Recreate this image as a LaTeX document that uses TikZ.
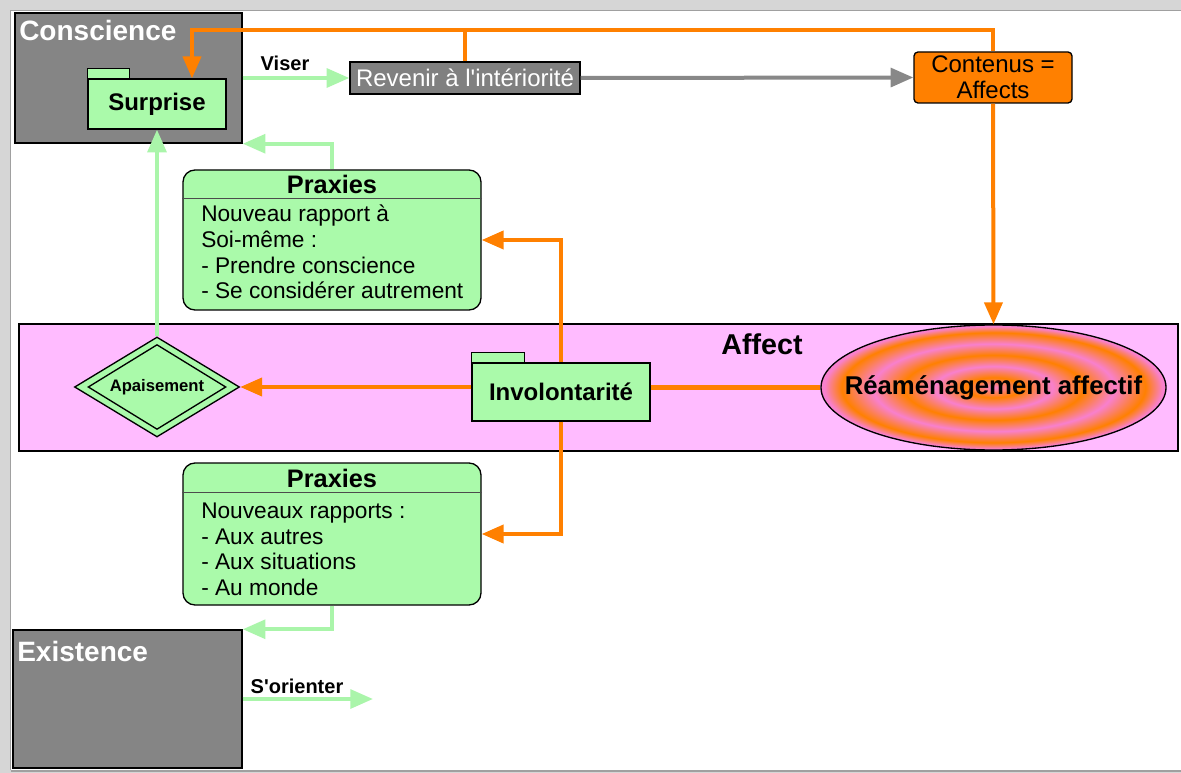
\documentclass[tikz,border=0pt]{standalone}
\usepackage{fontspec}
\setmainfont{Liberation Sans}
\newfontfamily\lsans{Liberation Sans}
\usetikzlibrary{arrows.meta,shapes.geometric,calc}
\definecolor{boxgray}{RGB}{133,133,133}
\definecolor{revgray}{RGB}{128,128,128}
\definecolor{arrgray}{RGB}{136,136,136}
\definecolor{lgreen}{RGB}{170,250,170}
\definecolor{cgreen}{RGB}{170,245,170}
\definecolor{orng}{RGB}{255,128,0}
\definecolor{bandpink}{RGB}{255,187,255}
\definecolor{ringpink}{RGB}{248,128,205}
\definecolor{framegray}{RGB}{214,214,214}
\definecolor{framedark}{RGB}{160,160,160}
\pgfdeclareradialshading{affshade4}{\pgfpoint{0bp}{0bp}}{color(0bp)=(ringpink); color(4bp)=(orng); color(8.5bp)=(ringpink); color(13bp)=(orng); color(17.5bp)=(ringpink); color(22bp)=(orng); color(24.5bp)=(ringpink); color(50bp)=(ringpink)}
\newcommand\fsz[2]{\fontsize{#1pt}{#2pt}\selectfont}
\begin{document}
\begin{tikzpicture}[x=0.75pt,y=-0.75pt,
  graybox/.style={draw=black, line width=1.1pt, fill=boxgray, inner sep=0pt},
  greenbox/.style={draw=black, line width=1pt, fill=lgreen, inner sep=0pt},
  praxbox/.style={greenbox, rounded corners=9pt},
  sepline/.style={draw=black!70, line width=0.8pt},
  gline/.style={draw=cgreen, line width=3pt},
  garrow/.style={gline, -{Triangle[length=17pt,width=14pt]}},
  oline/.style={draw=orng, line width=3pt},
  oarrow/.style={oline, -{Triangle[length=16.5pt,width=13.5pt]}},
  grarrow/.style={draw=arrgray, line width=3pt, -{Triangle[length=17pt,width=14pt]}},
  areatitle/.style={anchor=base west, inner sep=0pt, text=white, font=\bfseries\fsz{21}{25}},
  conlabel/.style={anchor=base, inner sep=0pt, font=\lsans\bfseries\fsz{15}{18}},
  hdr/.style={anchor=base, inner sep=0pt, font=\bfseries\fsz{19}{23}},
  bodyline/.style={anchor=base west, inner sep=0pt, font=\fsz{17}{20}},
]
\useasboundingbox (0,0) rectangle (1181,773);
% window frame
\fill[framegray] (0,0) rectangle (1181,773);
\fill[white] (11,11) rectangle (1181,770);
\draw[framedark, line width=0.8pt] (10.5,770) -- (10.5,10.5) -- (1181,10.5);
\draw[framedark, line width=1.5pt] (10.5,771) -- (1181,771);

% Affect band
\node[draw=black, line width=0.8pt, fill=bandpink, inner sep=0pt,
      minimum width=1159*0.75pt, minimum height=127*0.75pt] (affect) at (598.5,387.5) {};
\node[anchor=base, inner sep=0pt, font=\bfseries\fsz{21.5}{25}] (affectT) at (762,354) {Affect};

% Conscience area
\node[graybox, minimum width=227*0.75pt, minimum height=130*0.75pt] (conscience) at (128.5,78) {};
\node[areatitle] (conscienceT) at (19,41) {Conscience};
\node[greenbox, minimum width=138*0.75pt, minimum height=50*0.75pt, font=\bfseries\fsz{18}{21}] (surprise) at (157,104) {Surprise};
\draw[greenbox] (surprise.north west) rectangle ++(42,-10);

% Revenir
\node[draw=black, line width=1pt, fill=revgray, inner sep=0pt, text=white,
      minimum width=230*0.75pt, minimum height=32*0.75pt, font=\lsans\fsz{18}{21}] (revenir) at (465,78) {Revenir à l'intériorité};
% Contenus
\node[draw=black, line width=1pt, fill=orng, inner sep=0pt, rounded corners=3pt, align=center,
      minimum width=158*0.75pt, minimum height=51*0.75pt, font=\fsz{18}{19.5}] (contenus) at (993,77.5) {Contenus =\\Affects};

\node[conlabel] (viserL) at (285,71) {Viser};

% Praxies 1
\node[praxbox, minimum width=298*0.75pt, minimum height=140*0.75pt] (praxies1) at (332,240) {};
\draw[sepline] ($(praxies1.north west)+(0,29)$) -- ($(praxies1.north east)+(0,29)$);
\node[hdr] (p1h) at (332,194) {Praxies};
\node[bodyline] (p1a) at (201,222) {Nouveau rapport à};
\node[bodyline] (p1b) at (201,247.5) {Soi-même :};
\node[bodyline] (p1c) at (201,273.5) {- Prendre conscience};
\node[bodyline] (p1d) at (201,298.5) {- Se considérer autrement};

% Apaisement
\node[draw=black, line width=1pt, fill=lgreen, shape=diamond, aspect=1.65, inner sep=0pt,
      minimum width=165*0.75pt, minimum height=100*0.75pt, font=\bfseries\fsz{12.5}{15}] (apaisement) at (157,387) {Apaisement};
\draw[black, line width=1pt] ($(apaisement.north)+(0,8.5)$) -- ($(apaisement.east)+(-14.5,0)$) -- ($(apaisement.south)+(0,-8.5)$) -- ($(apaisement.west)+(14.5,0)$) -- cycle;

% Involontarite
\node[greenbox, minimum width=178*0.75pt, minimum height=58*0.75pt, font=\bfseries\fsz{18}{21}] (involontarite) at (561,392) {Involontarité};
\draw[greenbox] (involontarite.north west) rectangle ++(53,-10);

% Reamenagement
\node[draw=black, line width=1pt, shape=ellipse, shading=affshade4, inner sep=0pt,
      minimum width=345*0.75pt, minimum height=125*0.75pt] (reamenagement) at (993.5,387.5) {};
\node[inner sep=0pt, font=\bfseries\fsz{19.3}{23}] (reamT) at (reamenagement.center) {Réaménagement affectif};

% Praxies 2
\node[praxbox, minimum width=298*0.75pt, minimum height=142*0.75pt] (praxies2) at (332,534) {};
\draw[sepline] ($(praxies2.north west)+(0,30)$) -- ($(praxies2.north east)+(0,30)$);
\node[hdr] (p2h) at (332,487) {Praxies};
\node[bodyline] (p2a) at (201,518.5) {Nouveaux rapports :};
\node[bodyline] (p2b) at (201,544) {- Aux autres};
\node[bodyline] (p2c) at (201,569.5) {- Aux situations};
\node[bodyline] (p2d) at (201,595) {- Au monde};

% Existence area
\node[graybox, minimum width=229*0.75pt, minimum height=138*0.75pt] (existence) at (127.5,699) {};
\node[areatitle] (existenceT) at (17,661) {Existence};
\node[conlabel] (orienterL) at (297,693) {S'orienter};
\coordinate (orientEnd) at (373,699);

% connectors
\coordinate (topbend) at (192,30);
\draw[oline] (revenir.north) -- (revenir.north |- topbend);
\draw[oarrow] (contenus.north) |- (topbend) -- (topbend |- surprise.north);
\draw[garrow] (conscience.east) -- (revenir.west);
\draw[grarrow] (revenir.east) -- (contenus.west);
\draw[oarrow] (contenus.south) -- (reamenagement.north);
\draw[garrow] (praxies1.north) |- (conscience.south east);
\draw[garrow] (apaisement.north) -- (surprise.south);
\draw[oarrow] (involontarite.west |- apaisement.east) -- (apaisement.east);
\draw[oline] (involontarite.east |- reamenagement.west) -- (reamenagement.west);
\draw[oarrow] (involontarite.north) |- (praxies1.east);
\draw[oarrow] (involontarite.south) |- (praxies2.east);
\draw[garrow] (praxies2.south) |- (existence.north east);
\draw[garrow] (existence.east) -- (orientEnd);
\end{tikzpicture}
\end{document}
